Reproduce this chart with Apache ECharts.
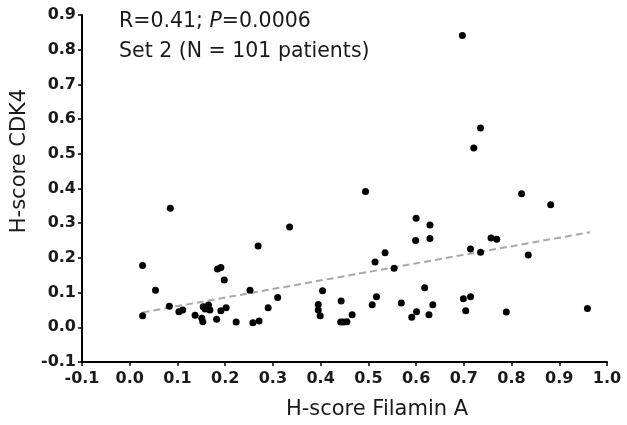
<!DOCTYPE html>
<html>
<head>
<meta charset="utf-8">
<script src="https://cdn.jsdelivr.net/npm/echarts@6/dist/echarts.min.js"></script>
<style>html,body{margin:0;padding:0;background:#fff}#c{width:627px;height:425px}</style>
</head>
<body>
<div id="c"></div>
<script>
// H-score Filamin A (x) and H-score CDK4 (y) per patient
var filaminA = [0.027,0.027,0.054,0.083,0.085,0.103,0.111,0.137,0.151,0.153,0.154,0.165,0.158,0.168,0.182,0.191,0.202,0.184,0.191,0.198,0.223,0.252,0.258,0.271,0.269,0.290,0.310,0.335,0.395,0.395,0.399,0.404,0.443,0.442,0.448,0.455,0.466,0.494,0.508,0.517,0.514,0.535,0.554,0.569,0.591,0.601,0.600,0.599,0.618,0.629,0.629,0.627,0.635,0.697,0.699,0.714,0.704,0.714,0.721,0.735,0.735,0.757,0.769,0.789,0.821,0.835,0.882,0.959];
var cdk4     = [0.178,0.033,0.107,0.061,0.343,0.045,0.050,0.035,0.026,0.016,0.059,0.064,0.053,0.050,0.023,0.048,0.056,0.168,0.172,0.136,0.015,0.107,0.013,0.018,0.234,0.056,0.086,0.289,0.066,0.050,0.033,0.105,0.076,0.015,0.015,0.016,0.036,0.391,0.065,0.088,0.188,0.215,0.170,0.070,0.029,0.045,0.314,0.250,0.114,0.295,0.256,0.036,0.065,0.841,0.082,0.088,0.048,0.226,0.517,0.574,0.216,0.257,0.254,0.044,0.385,0.208,0.353,0.054];
// regression line end points
var trendX = [0.027, 0.964];
var trendY = [0.043, 0.274];
var xTicks = {min: -0.1, max: 1.0, step: 0.1};
var yTicks = {min: -0.1, max: 0.9, step: 0.1};
var statText = ['R=0.41; ', 'P', '=0.0006'];
var setText = 'Set 2 (N = 101 patients)';

var points = filaminA.map(function(x, i){ return [x, cdk4[i]]; });
var trend = trendX.map(function(x, i){ return [x, trendY[i]]; });
var fmt = function(v){ return (Math.round(v*10)/10).toFixed(1); };
var txt = '#1a1a1a';
var axisCommon = {
  axisLine: {show: true, onZero: false, lineStyle: {color: '#000', width: 2}},
  axisTick: {show: true, length: 4, lineStyle: {color: '#000', width: 1.5}},
  splitLine: {show: false},
  axisLabel: {formatter: fmt, color: txt, fontFamily: 'DejaVu Sans', fontWeight: 'bold', fontSize: 16},
  nameLocation: 'middle',
  nameTextStyle: {color: txt, fontFamily: 'DejaVu Sans', fontSize: 21}
};
var chart = echarts.init(document.getElementById('c'), null, {renderer: 'canvas'});
chart.setOption({
  animation: false,
  backgroundColor: '#fff',
  title: {
    left: 114, top: 2,
    text: '{a|' + statText[0] + '}{i|' + statText[1] + '}{a|' + statText[2] + '}\n{a|' + setText + '}',
    textStyle: {
      fontWeight: 'normal',
      rich: {
        a: {fontFamily: 'DejaVu Sans', fontWeight: 'normal', fontSize: 20.5, color: txt, lineHeight: 30},
        i: {fontFamily: 'DejaVu Sans', fontWeight: 'normal', fontStyle: 'italic', fontSize: 20.5, color: txt, lineHeight: 30}
      }
    }
  },
  grid: {left: 82, right: 20, top: 15, bottom: 63},
  xAxis: Object.assign({}, axisCommon, {
    type: 'value', min: xTicks.min, max: xTicks.max, interval: xTicks.step,
    name: 'H-score Filamin A', nameGap: 37,
    axisLabel: Object.assign({}, axisCommon.axisLabel, {margin: 9}),
    nameTextStyle: Object.assign({}, axisCommon.nameTextStyle, {padding: [0, 0, 0, 65]})
  }),
  yAxis: Object.assign({}, axisCommon, {
    type: 'value', min: yTicks.min, max: yTicks.max, interval: yTicks.step,
    name: 'H-score CDK4', nameGap: 47,
    axisLabel: Object.assign({}, axisCommon.axisLabel, {margin: 6}),
    nameTextStyle: Object.assign({}, axisCommon.nameTextStyle, {padding: [0, 0, 0, 55]})
  }),
  series: [
    {
      type: 'line', data: trend, symbol: 'none', z: 1,
      lineStyle: {color: '#a8a8a8', width: 2, type: [7, 4]}
    },
    {
      type: 'scatter', data: points, symbol: 'circle', symbolSize: 7, z: 2,
      itemStyle: {color: '#000', opacity: 1}
    }
  ]
});
</script>
</body>
</html>
